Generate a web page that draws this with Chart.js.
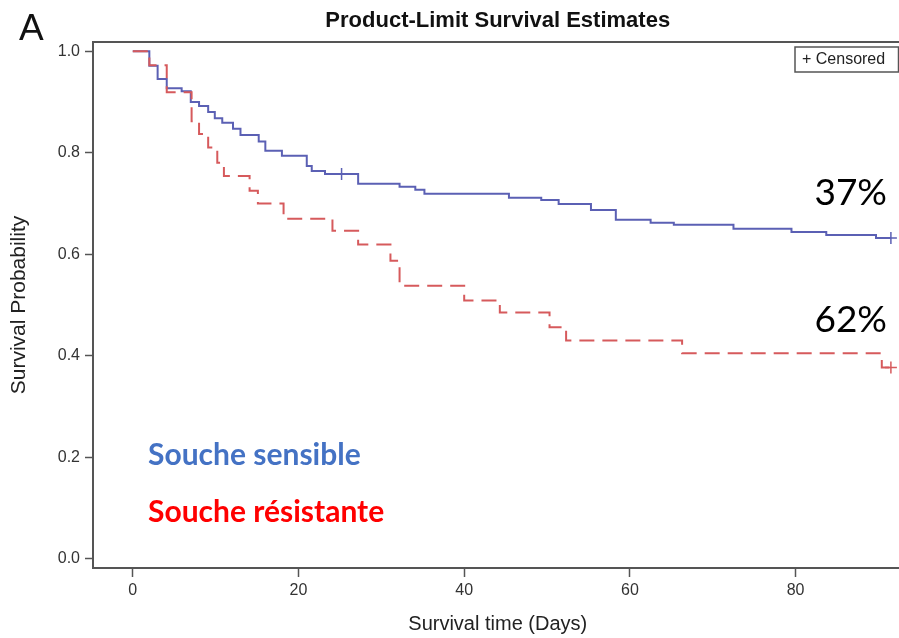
<!DOCTYPE html>
<html>
<head>
<meta charset="utf-8">
<script src="https://cdn.jsdelivr.net/npm/chart.js@4.4.1/dist/chart.umd.min.js"></script>
<style>
  html, body { margin: 0; padding: 0; overflow: hidden; background: #fff; }
  #wrap { width: 910px; height: 638px; }
</style>
</head>
<body>
<div id="wrap"><canvas id="kmChart"></canvas></div>
<script>
// Kaplan-Meier steps: day of each drop and survival after it
const xTicks = [0, 20, 40, 60, 80];
const yTicks = [0, 0.2, 0.4, 0.6, 0.8, 1.0];

const sensDays = [0, 2, 3, 4.1, 5.9, 7, 8, 9.1, 9.9, 10.8, 12.1, 13, 15.2, 16, 18, 21, 21.6, 23.2,
  27.2, 32.2, 34.1, 35.2, 45.4, 49.3, 51.4, 55.3, 58.3, 62.5, 65.3, 72.5, 79.5, 83.7, 89.7, 91.5];
const sensSurv = [1, 0.971, 0.945, 0.927, 0.921, 0.900, 0.892, 0.880, 0.868, 0.859, 0.847, 0.835, 0.822, 0.804, 0.794, 0.774, 0.764, 0.758,
  0.739, 0.733, 0.727, 0.719, 0.711, 0.707, 0.699, 0.687, 0.668, 0.662, 0.658, 0.650, 0.644, 0.638, 0.632, 0.632];
const sensCensDays = [25.2, 91.5];
const sensCensSurv = [0.758, 0.632];

const resDays = [0, 2, 4.1, 7.1, 8, 9.1, 10.2, 11, 14.1, 15.1, 18.2, 24.1, 27.2, 31.1, 32.2, 40, 44.3,
  50.3, 52.3, 66.3, 90.4, 91.5];
const resSurv = [1, 0.972, 0.919, 0.862, 0.837, 0.81, 0.78, 0.754, 0.725, 0.70, 0.67, 0.646, 0.619, 0.587, 0.538, 0.509, 0.485,
  0.456, 0.43, 0.405, 0.377, 0.377];
const resCensDays = [91.5];
const resCensSurv = [0.377];

const groupNames = ['Souche sensible', 'Souche résistante'];
const pctLabels = ['37%', '62%'];
const chartTitle = 'Product-Limit Survival Estimates';

const blue = '#5b60b4';
const red = '#d65a5c';
const sans = '"Liberation Sans", Arial, sans-serif';

function pts(xs, ys) {
  return xs.map((x, i) => ({ x: x, y: ys[i] }));
}

// frame, title, panel letter, censored box and the text notes
const decorations = {
  id: 'decorations',
  beforeDatasetsDraw(chart) {
    const { ctx, chartArea: a } = chart;
    ctx.save();
    ctx.strokeStyle = '#555';
    ctx.lineWidth = 2;
    ctx.strokeRect(a.left, a.top, a.right - a.left, a.bottom - a.top);
    ctx.restore();
  },
  afterDraw(chart) {
    const { ctx, chartArea: a } = chart;
    ctx.save();
    ctx.fillStyle = '#111';
    ctx.font = 'bold 22px ' + sans;
    ctx.textAlign = 'center';
    ctx.textBaseline = 'middle';
    ctx.fillText(chartTitle, (a.left + a.right) / 2, 21);

    ctx.textAlign = 'left';
    ctx.textBaseline = 'alphabetic';
    ctx.font = '37px ' + sans;
    ctx.fillText('A', 19, 40);

    ctx.strokeStyle = '#555';
    ctx.lineWidth = 1.5;
    ctx.strokeRect(795, 47, a.right - 4 - 795, 25);
    ctx.font = '16px ' + sans;
    ctx.fillStyle = '#222';
    ctx.textBaseline = 'middle';
    ctx.fillText('+ Censored', 802, 60);

    ctx.font = 'bold 30px Lato';
    ctx.fillStyle = '#4472c4';
    ctx.fillText(groupNames[0], 148, 455);
    ctx.fillStyle = '#ff0000';
    ctx.fillText(groupNames[1], 148, 512);

    ctx.font = '37px Lato';
    ctx.fillStyle = '#000';
    ctx.textAlign = 'right';
    ctx.fillText(pctLabels[0], 887, 193);
    ctx.fillText(pctLabels[1], 887, 320);
    ctx.restore();
  }
};

const ctx = document.getElementById('kmChart').getContext('2d');
const kmChart = new Chart(ctx, {
  type: 'line',
  data: {
    datasets: [
      {
        label: groupNames[1],
        data: pts(resDays, resSurv),
        borderColor: red,
        borderWidth: 2,
        borderDash: [15, 8],
        stepped: true,
        pointRadius: 0,
        fill: false
      },
      {
        label: groupNames[0],
        data: pts(sensDays, sensSurv),
        borderColor: blue,
        borderWidth: 2,
        stepped: true,
        pointRadius: 0,
        fill: false
      },
      {
        label: 'censored resistante',
        data: pts(resCensDays, resCensSurv),
        showLine: false,
        pointStyle: 'cross',
        pointRadius: 6,
        borderColor: red,
        borderWidth: 1.5
      },
      {
        label: 'censored sensible',
        data: pts(sensCensDays, sensCensSurv),
        showLine: false,
        pointStyle: 'cross',
        pointRadius: 6,
        borderColor: blue,
        borderWidth: 1.5
      }
    ]
  },
  options: {
    responsive: true,
    maintainAspectRatio: false,
    animation: false,
    layout: { padding: { left: 0, right: 1, top: 42, bottom: 0 } },
    plugins: {
      legend: { display: false },
      tooltip: { enabled: false },
      title: { display: false }
    },
    scales: {
      x: {
        type: 'linear',
        min: -4.8,
        max: 92.9,
        afterBuildTicks: s => { s.ticks = xTicks.map(v => ({ value: v })); },
        afterFit: s => { s.height = 70; },
        grid: { display: true, drawOnChartArea: false, tickLength: 9, tickColor: '#555', tickWidth: 1.5 },
        border: { display: false },
        ticks: { color: '#333', font: { family: sans, size: 16 }, padding: 4, callback: v => String(v) },
        title: {
          display: true,
          text: 'Survival time (Days)',
          color: '#222',
          font: { family: sans, size: 20 },
          padding: { top: 0, bottom: 2 }
        }
      },
      y: {
        type: 'linear',
        min: -0.018,
        max: 1.018,
        afterBuildTicks: s => { s.ticks = yTicks.map(v => ({ value: v })); },
        afterFit: s => { s.width = 93; },
        grid: { display: true, drawOnChartArea: false, tickLength: 8, tickColor: '#555', tickWidth: 1.5 },
        border: { display: false },
        ticks: { color: '#333', font: { family: sans, size: 16 }, padding: 5, callback: v => v.toFixed(1) },
        title: {
          display: true,
          text: 'Survival Probability',
          color: '#222',
          font: { family: sans, size: 21 },
          padding: { top: 7, bottom: 0 }
        }
      }
    }
  },
  plugins: [decorations]
});
</script>
</body>
</html>
